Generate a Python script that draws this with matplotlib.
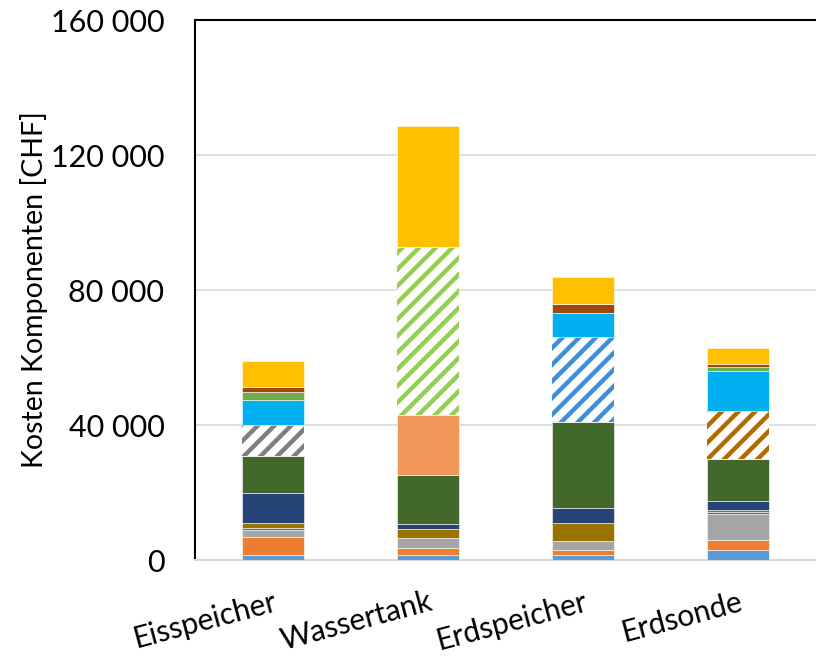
import numpy as np
import matplotlib.pyplot as plt
from matplotlib.ticker import FuncFormatter

plt.rcParams['font.family'] = ['Lato', 'DejaVu Sans']
plt.rcParams['hatch.linewidth'] = 3.2

systeme = ['Eisspeicher', 'Wassertank', 'Erdspeicher', 'Erdsonde']

# Kosten je Komponente [CHF], von unten nach oben gestapelt
k_hellblau = [1500, 1500, 1500, 2960]
k_orange = [5240, 1980, 1480, 2970]
k_grau = [2170, 3160, 2770, 7700]
k_blau = [500, 0, 0, 690]
k_gold = [1490, 2570, 5130, 490]
k_navy = [8880, 1380, 4440, 2670]
k_dunkelgruen = [11150, 14620, 25690, 12350]
k_lachs = [0, 17770, 0, 0]
k_speicher = [9100, 49870, 25180, 14320]
k_cyan = [7400, 0, 7120, 11950]
k_gruen = [2300, 0, 0, 1190]
k_braun = [1650, 0, 2470, 690]
k_gelb = [7700, 35770, 8010, 4740]

speicher_farben = ['#7F7F7F', '#92D050', '#3F8FD8', '#B06A00']

fig = plt.figure(figsize=(8.16, 6.56), dpi=100)
ax = fig.add_axes([0.239, 0.1463, 0.761, 0.8232])

x = np.arange(len(systeme))
breite = 0.4
unten = np.zeros(len(systeme))

def stapel(werte, farbe):
    global unten
    ax.bar(x, werte, breite, bottom=unten, color=farbe, edgecolor='white',
           linewidth=0.4, zorder=3)
    unten = unten + np.array(werte)

stapel(k_hellblau, '#5B9BD5')
stapel(k_orange, '#ED7D31')
stapel(k_grau, '#A5A5A5')
stapel(k_blau, '#2E75B6')
stapel(k_gold, '#997300')
stapel(k_navy, '#264478')
stapel(k_dunkelgruen, '#43682B')
stapel(k_lachs, '#F1975A')

# Speicher schraffiert, je System eine Farbe
for i in range(len(systeme)):
    ax.bar(x[i], k_speicher[i], breite, bottom=unten[i], color='white',
           edgecolor=speicher_farben[i], hatch='//', linewidth=0, zorder=3)
unten = unten + np.array(k_speicher)

stapel(k_cyan, '#00B0F0')
stapel(k_gruen, '#70AD47')
stapel(k_braun, '#9E480E')
stapel(k_gelb, '#FFC000')

ax.set_xlim(-0.5, 3.5)
ax.set_ylim(0, 160000)
ax.set_yticks([0, 40000, 80000, 120000, 160000])
ax.yaxis.set_major_formatter(FuncFormatter(lambda v, p: f'{v:,.0f}'.replace(',', ' ')))
ax.grid(axis='y', color='#D9D9D9', linewidth=1.2, zorder=0)

ax.set_xticks(x)
ax.set_xticklabels(systeme, rotation=15, ha='right', rotation_mode='anchor')
ax.tick_params(axis='y', length=0, labelsize=22, colors='black', pad=22)
ax.tick_params(axis='x', length=0, labelsize=21.5, colors='black', pad=20)

ax.set_ylabel('Kosten Komponenten [CHF]', fontsize=20.5)
ax.yaxis.set_label_coords(-0.237, 0.5)

ax.spines['right'].set_visible(False)
ax.spines['top'].set_color('black')
ax.spines['left'].set_color('black')
ax.spines['top'].set_linewidth(1.5)
ax.spines['left'].set_linewidth(1.5)
ax.spines['bottom'].set_color('#D9D9D9')
ax.spines['bottom'].set_linewidth(1.5)

fig.savefig('out.png', dpi=100)
